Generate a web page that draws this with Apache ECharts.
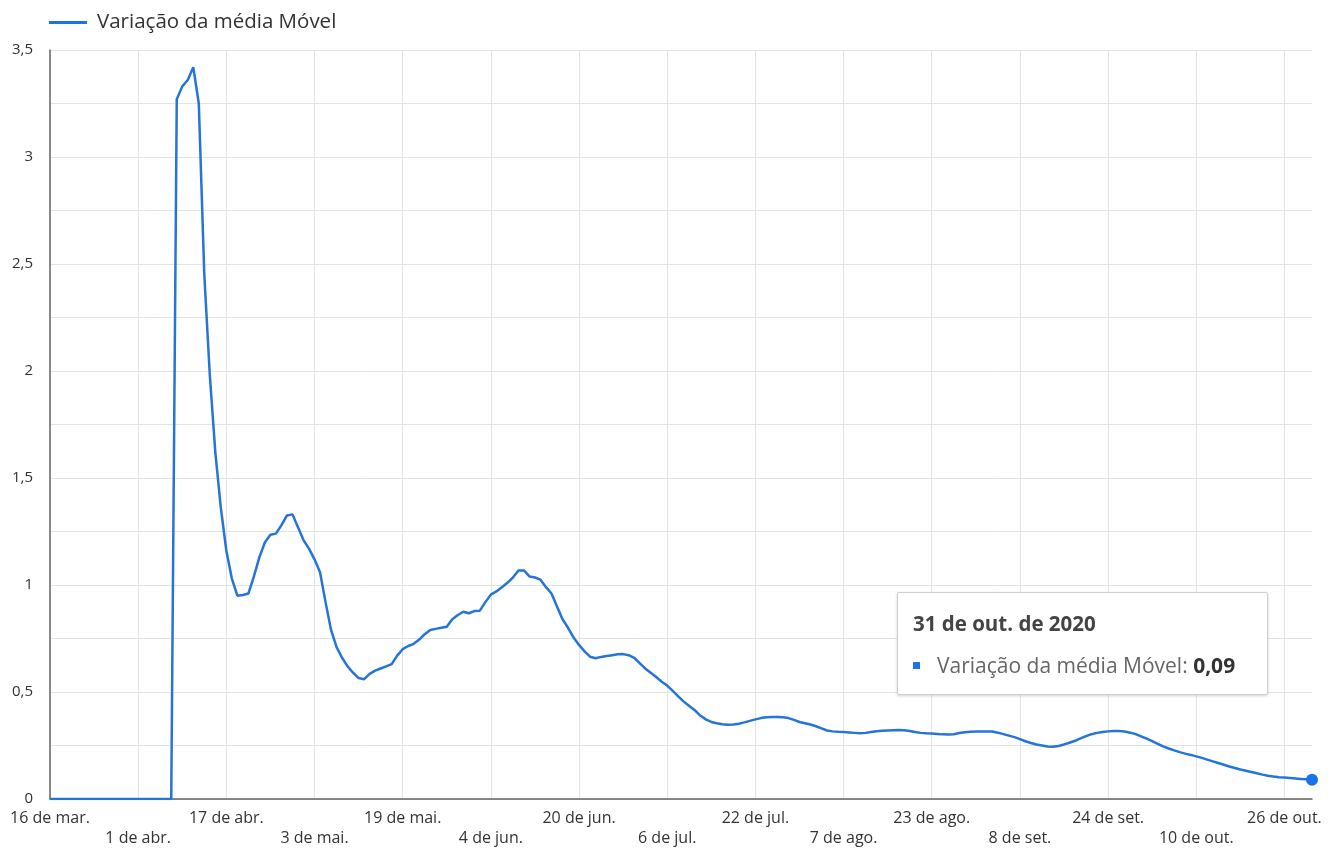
<!DOCTYPE html>
<html>
<head>
<meta charset="utf-8">
<script src="https://cdn.jsdelivr.net/npm/echarts@6/dist/echarts.min.js"></script>
<style>
  html, body { margin: 0; padding: 0; background: #fff; }
  #chart { width: 1338px; height: 852px; }
</style>
</head>
<body>
<div id="chart"></div>
<script>
// ---- data ----
const seriesName = 'Variação da média Móvel';
const startDate = [2020, 2, 16]; // 16 de mar. de 2020
const monthAbbr = ['jan.', 'fev.', 'mar.', 'abr.', 'mai.', 'jun.', 'jul.', 'ago.', 'set.', 'out.', 'nov.', 'dez.'];
const tickLabels = ['16 de mar.', '1 de abr.', '17 de abr.', '3 de mai.', '19 de mai.', '4 de jun.', '20 de jun.',
  '6 de jul.', '22 de jul.', '7 de ago.', '23 de ago.', '8 de set.', '24 de set.', '10 de out.', '26 de out.'];
const values = [
  0, 0, 0, 0, 0, 0, 0, 0, 0, 0, 0, 0, 0, 0, 0, 0, 0, 0, 0, 0, 0, 0, 0,
  3.27, 3.33, 3.36, 3.42, 3.25, 2.45, 1.98,
  1.62, 1.36, 1.16, 1.03, 0.95, 0.953, 0.96, 1.04, 1.13, 1.20,
  1.235, 1.24, 1.28, 1.325, 1.33, 1.27, 1.21, 1.17, 1.12, 1.06,
  0.92, 0.79, 0.71, 0.66, 0.62, 0.59, 0.565, 0.56, 0.585, 0.60,
  0.61, 0.62, 0.63, 0.67, 0.70, 0.715, 0.725, 0.745, 0.77, 0.79,
  0.795, 0.80, 0.805, 0.84, 0.86, 0.875, 0.868, 0.878, 0.88, 0.92,
  0.955, 0.97, 0.99, 1.01, 1.035, 1.068, 1.068, 1.04, 1.035, 1.025,
  0.99, 0.96, 0.90, 0.84, 0.80, 0.755, 0.72, 0.69, 0.665, 0.658,
  0.664, 0.668, 0.672, 0.676, 0.677, 0.672, 0.66, 0.635, 0.61, 0.59,
  0.57, 0.548, 0.53, 0.505, 0.48, 0.455, 0.435, 0.415, 0.39, 0.372,
  0.36, 0.354, 0.349, 0.347, 0.348, 0.352, 0.358, 0.365, 0.372, 0.378,
  0.382, 0.383, 0.383, 0.382, 0.378, 0.37, 0.36, 0.354, 0.348, 0.34,
  0.33, 0.32, 0.316, 0.314, 0.313, 0.311, 0.309, 0.307, 0.309, 0.313,
  0.317, 0.319, 0.32, 0.321, 0.322, 0.321, 0.318, 0.313, 0.309, 0.307,
  0.306, 0.304, 0.302, 0.301, 0.303, 0.308, 0.312, 0.314, 0.315, 0.316,
  0.316, 0.315, 0.31, 0.303, 0.296, 0.289, 0.28, 0.27, 0.262, 0.255,
  0.25, 0.245, 0.244, 0.248, 0.255, 0.263, 0.272, 0.283, 0.294, 0.303,
  0.309, 0.313, 0.316, 0.318, 0.318, 0.315, 0.31, 0.303, 0.293, 0.282,
  0.27, 0.258, 0.246, 0.236, 0.227, 0.219, 0.212, 0.206, 0.199, 0.192,
  0.184, 0.176, 0.168, 0.16, 0.152, 0.145, 0.138, 0.132, 0.126, 0.12,
  0.114, 0.109, 0.105, 0.102, 0.1, 0.098, 0.096, 0.094, 0.092, 0.09
];

// ---- build categories (one per day) ----
const dates = [];
for (let i = 0; i < values.length; i++) {
  dates.push(new Date(startDate[0], startDate[1], startDate[2] + i));
}
const categories = dates.map(d => d.getFullYear() + '-' + (d.getMonth() + 1) + '-' + d.getDate());
const lastIndex = values.length - 1;

const fontFamily = '"Open Sans", "Noto Sans", sans-serif';
const chart = echarts.init(document.getElementById('chart'));

chart.setOption({
  animation: false,
  textStyle: { fontFamily: fontFamily },
  legend: {
    data: [seriesName],
    left: 44,
    top: 7,
    icon: 'rect',
    itemWidth: 38,
    itemHeight: 3,
    textStyle: { fontSize: 20.5, color: '#333', fontFamily: fontFamily, padding: [0, 0, 0, 5] }
  },
  grid: { left: 50, right: 26, top: 50, bottom: 53, containLabel: false },
  tooltip: {
    trigger: 'item',
    alwaysShowContent: true,
    position: [897, 592],
    backgroundColor: '#fff',
    borderColor: '#cfcfcf',
    borderWidth: 1,
    padding: 0,
    extraCssText: 'box-shadow: 0 1px 3px rgba(0,0,0,0.18); border-radius: 2px;',
    formatter: function (p) {
      const d = dates[p.dataIndex];
      const title = d.getDate() + ' de ' + monthAbbr[d.getMonth()] + ' de ' + d.getFullYear();
      const val = p.value.toFixed(2).replace('.', ',');
      return '<div style="width:339px;height:66px;padding:18px 15px 17px 15px;font-family:' + fontFamily.replace(/"/g, "'") + ';white-space:nowrap;">' +
        '<div style="font-weight:700;font-size:20.5px;color:#444;line-height:24px;height:24px;">' + title + '</div>' +
        '<div style="margin-top:18px;font-size:21px;color:#666;line-height:24px;height:24px;">' +
        '<span style="display:inline-block;width:7px;height:7px;background:#1a73e8;margin-right:17px;vertical-align:middle;position:relative;top:-2px;"></span>' +
        seriesName + ': <b style="color:#333;">' + val + '</b></div></div>';
    }
  },
  xAxis: {
    type: 'category',
    data: categories,
    boundaryGap: false,
    axisLine: { lineStyle: { color: '#666', width: 1.5 } },
    axisTick: { show: false },
    axisLabel: {
      interval: 15,
      color: '#333',
      fontSize: 16,
      lineHeight: 20,
      margin: 9,
      formatter: function (value, index) {
        const k = Math.round(index / 16);
        const t = tickLabels[k] || '';
        return (k % 2 === 1) ? '\n' + t : t;
      }
    },
    splitLine: { show: true, interval: 15, lineStyle: { color: '#e3e3e3', width: 1 } }
  },
  yAxis: {
    type: 'value',
    min: 0,
    max: 3.5,
    interval: 0.25,
    axisLine: { show: true, lineStyle: { color: '#666', width: 1.5 } },
    axisTick: { show: false },
    axisLabel: {
      color: '#333',
      fontSize: 15,
      margin: 17,
      formatter: function (v) {
        if (Math.abs(v * 2 - Math.round(v * 2)) > 1e-6) return '';
        return String(v).replace('.', ',');
      }
    },
    splitLine: { show: true, lineStyle: { color: '#e3e3e3', width: 1 } }
  },
  series: [{
    name: seriesName,
    type: 'line',
    data: values,
    smooth: false,
    showSymbol: true,
    showAllSymbol: true,
    symbol: 'circle',
    symbolSize: function (val, params) { return params.dataIndex === lastIndex ? 12 : 0; },
    lineStyle: { color: '#2574d9', width: 2.5 },
    itemStyle: { color: '#1a73e8' },
    emphasis: { scale: false, lineStyle: { width: 2.5 } }
  }]
});

chart.dispatchAction({ type: 'showTip', seriesIndex: 0, dataIndex: lastIndex });
</script>
</body>
</html>
